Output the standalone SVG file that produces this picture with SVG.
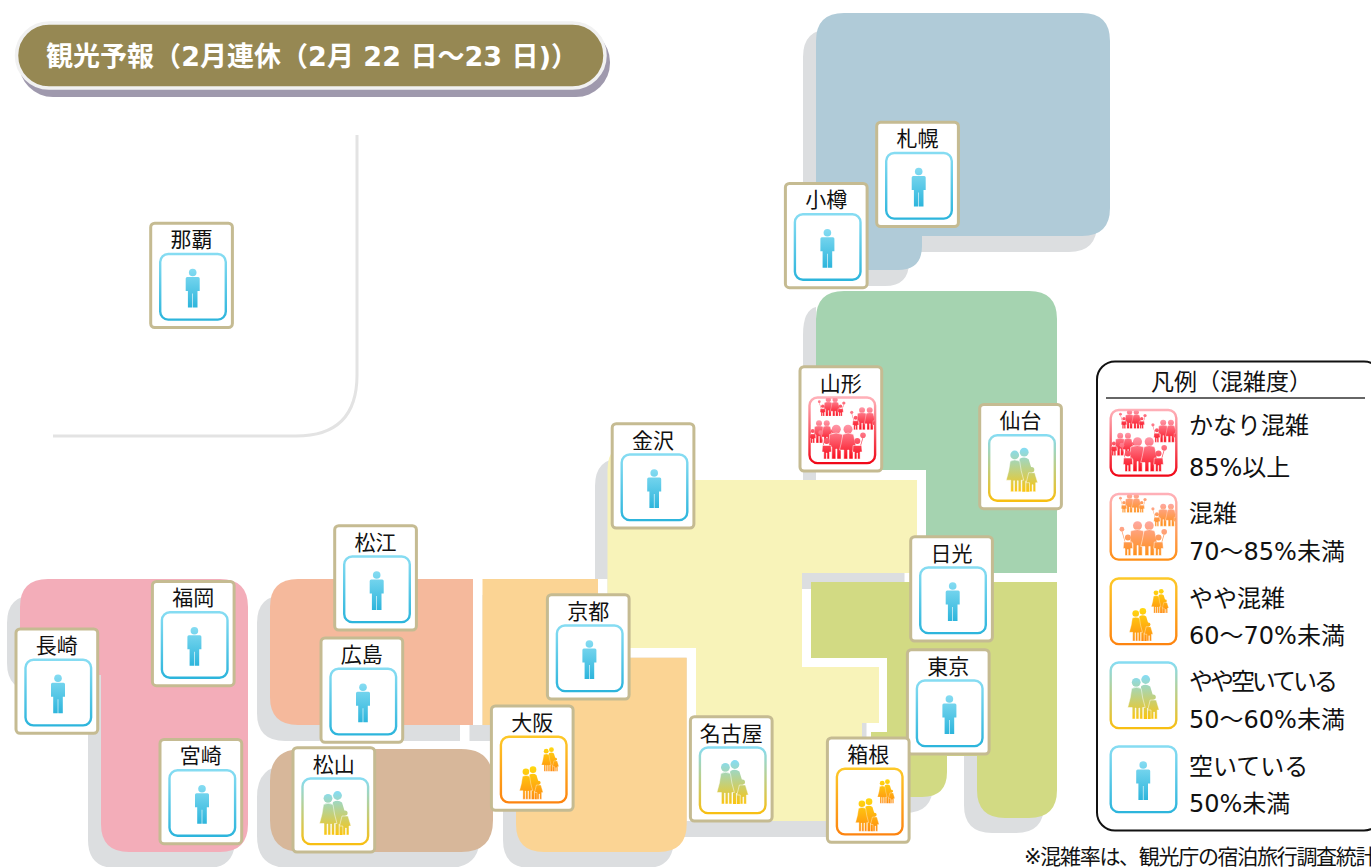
<svg xmlns="http://www.w3.org/2000/svg" xmlns:xlink="http://www.w3.org/1999/xlink" width="1371" height="867" viewBox="0 0 1371 867">
<style>
text{font-family:"DejaVu Sans","Noto Sans CJK JP",sans-serif;fill:#111}
.card{fill:#fff;stroke:#c5bb92;stroke-width:3}
.nm{font-size:21px;text-anchor:middle;font-family:"Noto Sans CJK JP",sans-serif}
.sh{fill:#dcdee0}
.lg{font-size:24px}
.o{stroke:#fff;stroke-width:.5}
</style>
<defs>
<linearGradient id="bBlue" x1="0" y1="0" x2="0" y2="1"><stop offset="0" stop-color="#86dcf2"/><stop offset="1" stop-color="#2db5dc"/></linearGradient>
<linearGradient id="bTeal" x1="0" y1="0" x2="0" y2="1"><stop offset="0" stop-color="#86dcf2"/><stop offset="1" stop-color="#f8bf12"/></linearGradient>
<linearGradient id="bOrange" x1="0" y1="0" x2="0" y2="1"><stop offset="0" stop-color="#fdc828"/><stop offset="1" stop-color="#fd8410"/></linearGradient>
<linearGradient id="bPink" x1="0" y1="0" x2="0" y2="1"><stop offset="0" stop-color="#ffb0b8"/><stop offset="1" stop-color="#ff9018"/></linearGradient>
<linearGradient id="bRed" x1="0" y1="0" x2="0" y2="1"><stop offset="0" stop-color="#ffb0b8"/><stop offset="1" stop-color="#f00818"/></linearGradient>
<linearGradient id="fBlue" gradientUnits="userSpaceOnUse" x1="0" y1="15" x2="0" y2="54"><stop offset="0" stop-color="#86dcf2"/><stop offset="1" stop-color="#2db5dc"/></linearGradient>
<linearGradient id="fTeal" gradientUnits="userSpaceOnUse" x1="0" y1="14" x2="0" y2="57"><stop offset="0" stop-color="#86dcf2"/><stop offset="1" stop-color="#fbc50e"/></linearGradient>
<linearGradient id="fOrange" gradientUnits="userSpaceOnUse" x1="0" y1="14" x2="0" y2="57"><stop offset="0" stop-color="#ffd810"/><stop offset="1" stop-color="#ff8c10"/></linearGradient>
<linearGradient id="fPink" gradientUnits="userSpaceOnUse" x1="0" y1="28" x2="0" y2="62"><stop offset="0" stop-color="#ffa8a0"/><stop offset="1" stop-color="#ff9018"/></linearGradient>
<linearGradient id="fRed" gradientUnits="userSpaceOnUse" x1="0" y1="28" x2="0" y2="62"><stop offset="0" stop-color="#ff98a8"/><stop offset="1" stop-color="#fa0c1c"/></linearGradient>
<clipPath id="boxClip"><rect x="1" y="1" width="64.3" height="64.3" rx="8"/></clipPath>

<g id="fam">
<circle cx="35.5" cy="17.5" r="4.4"/>
<path d="M31 24Q36 21.5 40 24.5L43.5 36V43L41 43.5V57H37.5V46H36.8V57H33.5V44L30 30Z"/>
<circle cx="26" cy="20.3" r="4.4"/>
<path class="o" d="M21.5 26.5Q26 24 31 26.5L32.5 36L35 45.5H32.5V57H29.5V46H28.7V57H25.8V46H25V57H22V45.5H17.5L20 36Z"/>
<circle cx="43" cy="35" r="2.6"/>
<path class="o" d="M40 38H46L49 48H47V57H44.3V50H43.5V57H40.8V48H37.5Z"/>
</g>

<g id="crowd">
<circle cx="11.7" cy="35.7" r="2.4"/><path d="M11.3 37.5H12.1L15.5 49.5H14.9Z"/>
<circle cx="54" cy="38.3" r="2.8"/><path d="M53.6 40.5H54.4L51.7 49.5H51Z"/>
<circle cx="27.3" cy="32.3" r="4.5"/>
<path class="o" d="M20.5 37.5Q27.3 34.5 33.5 37.5L34.5 50H32V62H28V52H26.8V62H22.8V50H19.8Z"/>
<circle cx="39" cy="32.3" r="4.5"/>
<path class="o" d="M33.8 37.5Q39 34.5 44.5 37.5L46.5 47L48 53H44V62H40V53H38.6V62H34.8V53H30.5L32 47Z"/>
<circle cx="17.7" cy="44" r="3"/>
<path class="o" d="M13.5 48.5H22L22.5 55H20.5V62H18V56H17.3V62H14.8V55H13Z"/>
<circle cx="48.3" cy="44" r="3"/>
<path class="o" d="M44.1 48.5H52.6L53.1 55H51.1V62H48.6V56H47.9V62H45.4V55H43.6Z"/>
</g>

<g id="iBlue">
<rect x=".5" y=".5" width="65.6" height="65.6" rx="8" fill="#fff" stroke="url(#bBlue)" stroke-width="2.4"/>
<g fill="url(#fBlue)"><circle cx="33" cy="19" r="3.8"/><path d="M26 25Q26 23.5 27.5 23.5H38.5Q40 23.5 40 25V37.5H37.8V54H33.3V40H32.7V54H28.2V37.5H26Z"/></g>
</g>
<g id="iTeal">
<rect x=".5" y=".5" width="65.6" height="65.6" rx="8" fill="#fff" stroke="url(#bTeal)" stroke-width="2.4"/>
<use href="#fam" fill="url(#fTeal)"/>
</g>
<g id="iOrange">
<rect x=".5" y=".5" width="65.6" height="65.6" rx="8" fill="#fff" stroke="url(#bOrange)" stroke-width="2.4"/>
<use href="#fam" fill="url(#fOrange)" transform="translate(6 20.2) scale(.75)"/>
<use href="#fam" fill="url(#fOrange)" transform="translate(31.5 3.7) scale(.55)"/>
</g>
<g id="iPink">
<rect x=".5" y=".5" width="65.6" height="65.6" rx="8" fill="#fff" stroke="url(#bPink)" stroke-width="2.4"/>
<g clip-path="url(#boxClip)">
<use href="#crowd" fill="url(#fPink)" transform="translate(3.5 -15) scale(.58 .55)"/>
<use href="#crowd" fill="url(#fPink)" transform="translate(35 -8.2) scale(.66)"/>
<use href="#crowd" fill="url(#fPink)"/>
</g>
</g>
<g id="iRed">
<rect x=".5" y=".5" width="65.6" height="65.6" rx="8" fill="#fff" stroke="url(#bRed)" stroke-width="2.4"/>
<g clip-path="url(#boxClip)">
<use href="#crowd" fill="url(#fRed)" transform="translate(3.5 -15) scale(.58 .55)"/>
<use href="#crowd" fill="url(#fRed)" transform="translate(35 -8.2) scale(.66)"/>
<use href="#crowd" fill="url(#fRed)" transform="translate(-8 5) scale(.66)"/>
<use href="#crowd" fill="url(#fRed)"/>
</g>
</g>

<path id="rHokkaido" d="M816 41Q816 13 844 13H1082Q1110 13 1110 41V208Q1110 236 1082 236H922V246Q922 270 898 270H816Z"/>
<path id="rKyushu" d="M48 579H220Q248 579 248 607V824Q248 852 220 852H129Q101 852 101 824V675H48Q20 675 20 647V607Q20 579 48 579Z"/>
<path id="rChugoku" d="M298 579H473V725H298Q270 725 270 697V607Q270 579 298 579Z"/>
<path id="rKinki" d="M482.5 579H598V657.7H686.7V824Q686.7 852 658.7 852H544Q516 852 516 824V725H482.5Z"/>
<path id="rShikoku" d="M302 749H461Q493 749 493 781V820Q493 852 461 852H302Q270 852 270 820V781Q270 749 302 749Z"/>
<path id="rChubu" d="M607.5 470Q607.5 442 635 442H680V480H917V573H802V667H879V723H862V821H696V648H607.5Z"/>
</defs>

<g id="map">
<path d="M357 135V375Q357 436 296 436H53" fill="none" stroke="#e3e3e3" stroke-width="3"/>
<g id="shadows" class="sh">
<use href="#rHokkaido" transform="translate(-13 16)"/>
<use href="#rKyushu" transform="translate(-13 16)"/>
<use href="#rChugoku" transform="translate(-13 16)"/>
<use href="#rKinki" transform="translate(-13 16)"/>
<use href="#rShikoku" transform="translate(-13 16)"/>
<use href="#rChubu" transform="translate(-12.5 16)"/>
<path d="M803 335Q803 310 816 307V480H803Z"/>
<path d="M964 700H1044V805Q1044 833 1016 833H992Q964 833 964 805Z"/>
<path d="M860 760H933V785Q933 813 905 813H860Z"/>
</g>
<g fill="#fff">
<rect x="473" y="579" width="9.5" height="146"/>
<rect x="598" y="579" width="9.5" height="79"/>
<rect x="598" y="648" width="98" height="9.7"/>
<rect x="686.7" y="648" width="9.3" height="173"/>
</g>
<use href="#rHokkaido" fill="#b0cbd8"/>
<path d="M816 319Q816 291 844 291H1029Q1057 291 1057 319V573H926V470H816Z" fill="#a5d3b0"/>
<use href="#rChubu" fill="#f8f3b9"/>
<path d="M811 582H1057V790Q1057 818 1029 818H1005Q977 818 977 790V756H947V772Q947 797 922 797H871V732H887V658H811Z" fill="#d2da83"/>
<use href="#rKinki" fill="#fbd494"/>
<use href="#rChugoku" fill="#f5b99c"/>
<use href="#rShikoku" fill="#d7b79a"/>
<use href="#rKyushu" fill="#f3adb9"/>
</g>

<g id="title">
<rect x="19" y="28" width="591" height="69" rx="34" fill="#9f99ad"/>
<rect x="16.5" y="23" width="588.5" height="65" rx="32.5" fill="#968853" stroke="#f1f1f1" stroke-width="3.5"/>
<text x="46" y="66" font-size="27" font-weight="700" textLength="532" style="fill:#fff">観光予報（2月連休（2月 22 日～23 日)）</text>
</g>

<g id="node-naha" transform="translate(150.7 223.2)"><rect class="card" width="81.7" height="104.3" rx="4"/><text class="nm" x="40.8" y="24">那覇</text><use href="#iBlue" transform="translate(9 30.3)"/></g>
<g id="node-sapporo" transform="translate(876.7 122.2)"><rect class="card" width="81.7" height="104.3" rx="4"/><text class="nm" x="40.8" y="24">札幌</text><use href="#iBlue" transform="translate(9 30.3)"/></g>
<g id="node-otaru" transform="translate(785.4 183.4)"><rect class="card" width="81.7" height="104.3" rx="4"/><text class="nm" x="40.8" y="24">小樽</text><use href="#iBlue" transform="translate(9 30.3)"/></g>
<g id="node-yamagata" transform="translate(800 366.7)"><rect class="card" width="81.7" height="104.3" rx="4"/><text class="nm" x="40.8" y="24">山形</text><use href="#iRed" transform="translate(9 30.3)"/></g>
<g id="node-sendai" transform="translate(979.7 404.4)"><rect class="card" width="81.7" height="104.3" rx="4"/><text class="nm" x="40.8" y="24">仙台</text><use href="#iTeal" transform="translate(9 30.3)"/></g>
<g id="node-kanazawa" transform="translate(612.2 423.7)"><rect class="card" width="81.7" height="104.3" rx="4"/><text class="nm" x="40.8" y="24">金沢</text><use href="#iBlue" transform="translate(9 30.3)"/></g>
<g id="node-nikko" transform="translate(910.7 536.7)"><rect class="card" width="81.7" height="104.3" rx="4"/><text class="nm" x="40.8" y="24">日光</text><use href="#iBlue" transform="translate(9 30.3)"/></g>
<g id="node-tokyo" transform="translate(907.4 649.7)"><rect class="card" width="81.7" height="104.3" rx="4"/><text class="nm" x="40.8" y="24">東京</text><use href="#iBlue" transform="translate(9 30.3)"/></g>
<g id="node-hakone" transform="translate(827.4 738)"><rect class="card" width="81.7" height="104.3" rx="4"/><text class="nm" x="40.8" y="24">箱根</text><use href="#iOrange" transform="translate(9 30.3)"/></g>
<g id="node-nagoya" transform="translate(690.4 716.7)"><rect class="card" width="81.7" height="104.3" rx="4"/><text class="nm" x="40.8" y="24">名古屋</text><use href="#iTeal" transform="translate(9 30.3)"/></g>
<g id="node-kyoto" transform="translate(547.4 594.7)"><rect class="card" width="81.7" height="104.3" rx="4"/><text class="nm" x="40.8" y="24">京都</text><use href="#iBlue" transform="translate(9 30.3)"/></g>
<g id="node-osaka" transform="translate(491.4 706)"><rect class="card" width="81.7" height="104.3" rx="4"/><text class="nm" x="40.8" y="24">大阪</text><use href="#iOrange" transform="translate(9 30.3)"/></g>
<g id="node-matsue" transform="translate(334.7 525.7)"><rect class="card" width="81.7" height="104.3" rx="4"/><text class="nm" x="40.8" y="24">松江</text><use href="#iBlue" transform="translate(9 30.3)"/></g>
<g id="node-hiroshima" transform="translate(321 638)"><rect class="card" width="81.7" height="104.3" rx="4"/><text class="nm" x="40.8" y="24">広島</text><use href="#iBlue" transform="translate(9 30.3)"/></g>
<g id="node-matsuyama" transform="translate(293 747.7)"><rect class="card" width="81.7" height="104.3" rx="4"/><text class="nm" x="40.8" y="24">松山</text><use href="#iTeal" transform="translate(9 30.3)"/></g>
<g id="node-fukuoka" transform="translate(152.4 581.4)"><rect class="card" width="81.7" height="104.3" rx="4"/><text class="nm" x="40.8" y="24">福岡</text><use href="#iBlue" transform="translate(9 30.3)"/></g>
<g id="node-nagasaki" transform="translate(16 629)"><rect class="card" width="81.7" height="104.3" rx="4"/><text class="nm" x="40.8" y="24">長崎</text><use href="#iBlue" transform="translate(9 30.3)"/></g>
<g id="node-miyazaki" transform="translate(160 739.4)"><rect class="card" width="81.7" height="104.3" rx="4"/><text class="nm" x="40.8" y="24">宮崎</text><use href="#iBlue" transform="translate(9 30.3)"/></g>

<g id="legend">
<rect x="1097" y="361.5" width="285" height="469" rx="18" fill="#fff" stroke="#111" stroke-width="2"/>
<text x="1151" y="390" font-size="23">凡例（混雑度）</text>
<line x1="1106" y1="398" x2="1365" y2="398" stroke="#333" stroke-width="1.5"/>
<use href="#iRed" transform="translate(1110.2 409.5)"/>
<use href="#iPink" transform="translate(1110.2 493.5)"/>
<use href="#iOrange" transform="translate(1110.2 578)"/>
<use href="#iTeal" transform="translate(1110.2 662)"/>
<use href="#iBlue" transform="translate(1110.2 746)"/>
<text class="lg" x="1189" y="434">かなり混雑</text>
<text class="lg" x="1189" y="476">85%以上</text>
<text class="lg" x="1189" y="522">混雑</text>
<text class="lg" x="1189" y="560">70～85%未満</text>
<text class="lg" x="1189" y="607">やや混雑</text>
<text class="lg" x="1189" y="644">60～70%未満</text>
<text class="lg" x="1189" y="690" textLength="149">やや空いている</text>
<text class="lg" x="1189" y="728">50～60%未満</text>
<text class="lg" x="1189" y="775">空いている</text>
<text class="lg" x="1189" y="812">50%未満</text>
</g>
<text id="note" x="1024" y="864" font-size="21" letter-spacing="-1.3">※混雑率は、観光庁の宿泊旅行調査統計</text>
</svg>
